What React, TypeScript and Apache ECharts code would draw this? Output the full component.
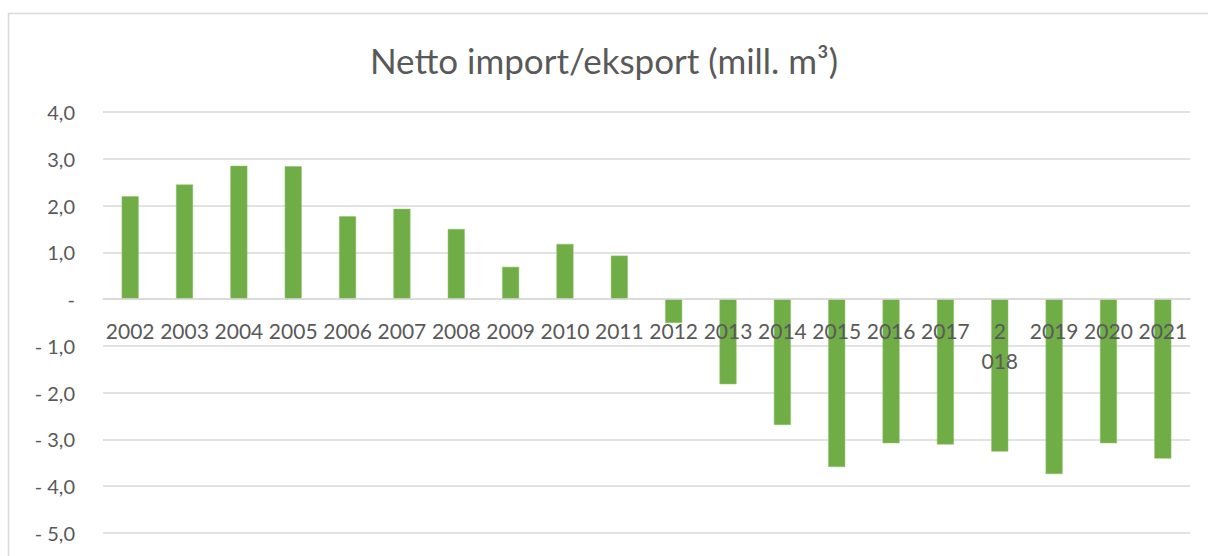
import React, { useEffect, useRef } from "react";
import * as echarts from "echarts";

const years = [
  "2002", "2003", "2004", "2005", "2006", "2007", "2008", "2009", "2010", "2011",
  "2012", "2013", "2014", "2015", "2016", "2017", "2018", "2019", "2020", "2021",
];
const netto = [
  2.2, 2.45, 2.85, 2.84, 1.77, 1.93, 1.5, 0.69, 1.18, 0.93,
  -0.51, -1.82, -2.69, -3.59, -3.08, -3.11, -3.26, -3.74, -3.08, -3.41,
];
const titleText = "Netto import/eksport (mill. m³)";
const yMin = -5;
const yMax = 4;

function fmtY(v: number): string {
  if (Math.abs(v) < 1e-9) return "-";
  const s = Math.abs(v).toFixed(1).replace(".", ",");
  return v < 0 ? "- " + s : s;
}

export default function App() {
  const ref = useRef<HTMLDivElement>(null);
  useEffect(() => {
    if (!ref.current) return;
    const chart = echarts.init(ref.current, undefined, { renderer: "svg" });
    const font = "Lato, 'Open Sans', sans-serif";
    const gridTop = 112;
    const gridBottom = 23;
    const plotH = 556 - gridTop - gridBottom;
    const zeroOffset = ((0 - yMin) / (yMax - yMin)) * plotH;
    chart.setOption({
      animation: false,
      backgroundColor: "#ffffff",
      title: {
        text: titleText,
        left: "center",
        top: 37,
        textStyle: { fontFamily: font, fontSize: 35, fontWeight: "normal", color: "#595959" },
      },
      graphic: [
        {
          type: "polyline",
          shape: { points: [[8.5, 560], [8.5, 13.5], [1212, 13.5]] },
          style: { stroke: "#d9d9d9", lineWidth: 1.5, fill: "none" },
          silent: true,
        },
      ],
      grid: {
        left: 103, right: 18, top: gridTop, bottom: gridBottom,
        containLabel: false, outerBoundsMode: "none",
      },
      xAxis: {
        type: "category",
        data: years,
        position: "bottom",
        offset: -zeroOffset,
        z: 10,
        axisLine: { onZero: false, lineStyle: { color: "#d9d9d9", width: 1.5 } },
        axisTick: { show: false },
        axisLabel: {
          interval: 0,
          margin: 16,
          fontFamily: font,
          fontSize: 21,
          color: "#595959",
          lineHeight: 30,
          formatter: (v: string) => (v === "2018" ? "2\n018" : v),
        },
      },
      yAxis: {
        type: "value",
        min: yMin,
        max: yMax,
        interval: 1,
        axisLine: { show: false },
        axisTick: { show: false },
        splitLine: { lineStyle: { color: "#d9d9d9", width: 1.5 } },
        axisLabel: {
          margin: 28,
          fontFamily: font,
          fontSize: 20,
          color: "#595959",
          formatter: (v: number) => fmtY(v),
        },
      },
      series: [
        {
          type: "bar",
          data: netto,
          barWidth: 17,
          z: 2,
          itemStyle: { color: "#70AD47", borderColor: "#8fc46a", borderWidth: 0.5 },
        },
      ],
    });
    return () => chart.dispose();
  }, []);
  return (
    <div
      ref={ref}
      style={{ position: "fixed", left: 0, top: 0, width: 1208, height: 556 }}
    />
  );
}
